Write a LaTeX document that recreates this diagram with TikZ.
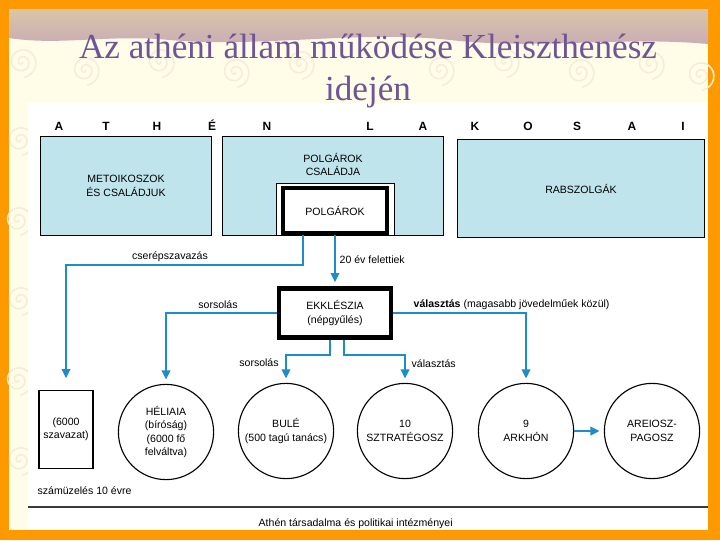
\documentclass[tikz,border=0pt]{standalone}
\usepackage{fontspec}
\setmainfont{Liberation Sans}
\newfontfamily\titlefont{Liberation Serif}
\usepackage{tikz}
\usetikzlibrary{arrows.meta,positioning,shapes.geometric}
\usepackage{xcolor}
\definecolor{athorange}{HTML}{FF9900}
\definecolor{athcream}{HTML}{FFFCE8}
\definecolor{athswirl}{HTML}{F4EDDA}
\definecolor{athtan}{HTML}{D8C6A6}
\definecolor{athmauve}{HTML}{C8A8B8}
\definecolor{athpurple}{HTML}{6F5595}
\definecolor{athbox}{HTML}{BFE4EC}
\definecolor{athblue}{HTML}{1E8CC8}
\definecolor{athline}{HTML}{3A3A3A}

\begin{document}
\begin{tikzpicture}[x=0.025cm, y=-0.025cm,
  famBox/.style={draw=black, line width=0.7pt, fill=athbox, inner sep=0pt},
  keyBox/.style={draw=black, line width=3pt, fill=white, align=center, inner sep=0pt,
                 font=\fontsize{7.5}{9.5}\selectfont},
  organ/.style={circle, draw=black, line width=0.8pt, fill=white, minimum size=2.38cm, inner sep=0pt},
  txt/.style={font=\fontsize{7.5}{9.5}\selectfont, align=center, inner sep=1pt},
  arr/.style={draw=athblue, line width=1.4pt, -{Triangle[length=6.5pt,width=6pt]}, shorten >=3pt}]
% slide background
\fill[athorange] (0,0) rectangle (720,540);
\fill[athcream] (9,9) rectangle (708,530);
\shade[top color=athtan, bottom color=athmauve]
  (9,9) -- (708,9) -- (708,44) .. controls (620,36) and (540,50) .. (450,40)
  .. controls (360,30) and (260,48) .. (170,40) .. controls (110,34) and (60,46) .. (9,38) -- cycle;
\foreach \sx/\sy in {22/62, 85/70, 160/62, 235/72, 300/64, 440/70, 505/62, 580/72, 650/64, 700/75,
                     20/140, 18/220, 20/300, 18/380, 20/460}
  \draw[athswirl, line width=1.1pt] plot[domain=0:14, samples=50, smooth]
    ({\sx+1.1*\x*cos(\x r)}, {\sy+1.1*\x*sin(\x r)});
\fill[white] (28,103) rectangle (708,530);
\node[font=\titlefont\fontsize{25}{30}\selectfont, text=athpurple, align=center] (title) at (368,71)
  {Az athéni állam működése Kleiszthenész\\idején};

% lakosok
\foreach \lx/\ch in {59/A, 106/T, 157/H, 212/É, 267/N, 370/L, 423/A, 475/K, 528/O, 577/S, 632/A, 683/I}
  \node[font=\fontsize{8.5}{10}\selectfont\bfseries, anchor=base] at (\lx,130) {\ch};

\node[famBox, minimum width=4.25cm, minimum height=2.45cm] (met) at (126,186) {};
\node[txt] at (met) {METOIKOSZOK\\ÉS CSALÁDJUK};
\node[famBox, minimum width=5.5cm, minimum height=2.45cm] (csalad) at (333,186) {};
\node[txt, below=0.38cm of csalad.north] {POLGÁROK\\CSALÁDJA};
\node[famBox, minimum width=6.15cm, minimum height=2.43cm] (rabsz) at (581,188.5) {};
\node[txt] at (rabsz) {RABSZOLGÁK};
\node[draw=black, line width=0.6pt, fill=white, minimum width=2.95cm, minimum height=1.3cm] (fehér) at (335,209) {};
\node[keyBox, minimum width=2.6cm, minimum height=1.12cm] (polg) at (335,210.5) {POLGÁROK};

\node[keyBox, minimum width=2.8cm, minimum height=1.22cm] (ekk) at (335,313) {EKKLÉSZIA\\(népgyűlés)};

\node[draw=black, line width=0.8pt, fill=white, minimum width=1.35cm, minimum height=1.97cm,
      txt] (ostr) at (66,429.5) {(6000\\szavazat)};
\node[organ, label={[txt]center:{HÉLIAIA\\(bíróság)\\(6000 fő\\felváltva)}}] (hel) at (166,432) {};
\node[organ, label={[txt]center:{BULÉ\\(500 tagú tanács)}}] (bule) at (286,431) {};
\node[organ, label={[txt]center:{10\\SZTRATÉGOSZ}}] (sztr) at (405,431) {};
\node[organ, label={[txt]center:{9\\ARKHÓN}}] (arkh) at (526,431) {};
\node[organ, label={[txt]center:{AREIOSZ-\\PAGOSZ}}] (areo) at (652,431) {};

\coordinate (cs) at (303,265);
\coordinate (sb) at (330,355);
\coordinate (vb) at (344,355);
\draw[arr, shorten >=8pt] (polg.south -| cs) -- (cs) -| (ostr.north);
\draw[arr] (polg) -- (ekk);
\draw[arr] (ekk.west) -| (hel.north);
\draw[arr] (ekk.south -| sb) -- (sb) -| (bule.north);
\draw[arr] (ekk.south -| vb) -- (vb) -| (sztr.north);
\draw[arr] (ekk.east) -| (arkh.north);
\draw[arr] (arkh) -- (areo);

\node[txt] at (170,257) {cserépszavazás};
\node[txt, anchor=west] at (338,260) {20 év felettiek};
\node[txt] at (218,305) {sorsolás};
\node[txt, anchor=west] at (412,305) {\textbf{választás} (magasabb jövedelműek közül)};
\node[txt] at (259,363) {sorsolás};
\node[txt, anchor=west] at (410,364) {választás};

\node[txt, anchor=west] (szam) at (36,491) {számüzelés 10 évre};
\draw[athline, line width=0.9pt] (28,507) -- (708,507);
\node[txt, anchor=west] (felirat) at (257,524) {Athén társadalma és politikai intézményei};
\end{tikzpicture}
\end{document}
